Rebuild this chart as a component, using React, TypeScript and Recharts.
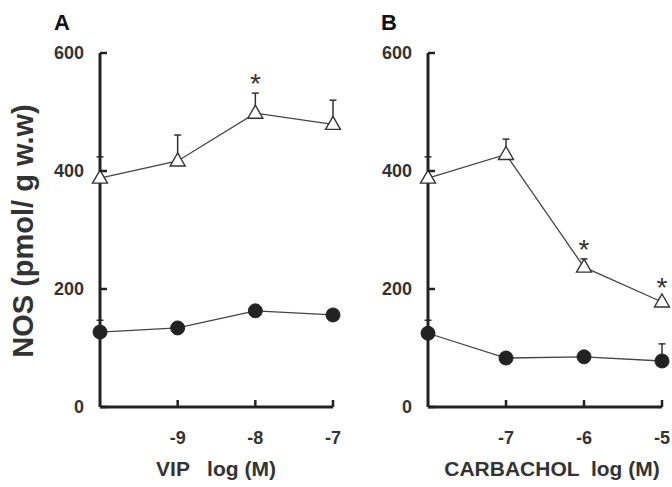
import React from "react";
import { LineChart, Line, XAxis, YAxis, ErrorBar } from "recharts";

// ---- data ----
const categoriesA = ["control", "-9", "-8", "-7"];
const vipTriangle = [388, 417, 498, 479];
const vipTriangleErr = [36, 44, 34, 41];
const vipCircle = [127, 134, 163, 156];
const vipCircleErr = [20, 5, 5, 5];
const vipStar = [null, null, 559, null];

const categoriesB = ["control", "-7", "-6", "-5"];
const carbTriangle = [388, 428, 237, 178];
const carbTriangleErr = [36, 26, 14, 5];
const carbCircle = [125, 83, 85, 78];
const carbCircleErr = [22, 5, 5, 29];
const carbStar = [null, null, 278, 213];

const yTicks = [0, 200, 400, 600];

const FONT = "'Liberation Sans', Arial, Helvetica, sans-serif";
const AXIS = "#222";
const LINE = "#444";
const TEXT = "#333";

function build(cats: string[], tri: number[], triErr: number[], circ: number[], circErr: number[], star: (number | null)[]) {
  return cats.map((c, i) => ({
    x: c,
    tri: tri[i],
    triErr: [0, triErr[i]],
    circ: circ[i],
    circErr: [0, circErr[i]],
    star: star[i],
  }));
}

const boldStyle = { fontWeight: 700 as const };

const XTick = (props: any) => {
  const { x, y, payload } = props;
  if (payload.value === "control") return <g />;
  return (
    <g>
      <line x1={x} y1={y} x2={x} y2={y - 7} stroke={AXIS} strokeWidth={2.5} />
      <text x={x} y={y + 37} textAnchor="middle" fontFamily={FONT} fontSize={18} fill={TEXT} style={boldStyle}>
        {payload.value}
      </text>
    </g>
  );
};

const YTick = (props: any) => {
  const { x, y, payload } = props;
  return (
    <g>
      <line x1={x} y1={y} x2={x + 7} y2={y} stroke={AXIS} strokeWidth={2.5} />
      <text x={x - 16} y={y} dy="0.36em" textAnchor="end" fontFamily={FONT} fontSize={18} fill={TEXT} style={boldStyle}>
        {payload.value}
      </text>
    </g>
  );
};

const Triangle = (props: any) => {
  const { cx, cy, index } = props;
  if (cx == null || cy == null) return <g key={"t" + index} />;
  const d = `M${cx},${cy - 8} L${cx + 7.5},${cy + 5} L${cx - 7.5},${cy + 5} Z`;
  return <path key={"t" + index} d={d} fill="#fff" stroke="#333" strokeWidth={1.4} />;
};

const Circle = (props: any) => {
  const { cx, cy, index } = props;
  if (cx == null || cy == null) return <g key={"c" + index} />;
  return <circle key={"c" + index} cx={cx} cy={cy} r={7} fill="#222" stroke="#222" />;
};

const Star = (props: any) => {
  const { cx, cy, index, value } = props;
  if (cx == null || cy == null || value == null) return <g key={"s" + index} />;
  return (
    <text key={"s" + index} x={cx} y={cy + 16} textAnchor="middle" fontFamily={FONT} fontSize={28} fill="#333">
      *
    </text>
  );
};

type PanelProps = {
  data: any[];
  left: number;
  width: number;
  margin: { top: number; right: number; bottom: number; left: number };
  xTitle: string;
  xTitleX: number;
  letter: string;
  letterX: number;
  yLabel?: string;
};

const Panel = ({ data, left, width, margin, xTitle, xTitleX, letter, letterX, yLabel }: PanelProps) => (
  <div style={{ position: "absolute", left, top: 0 }}>
    <LineChart width={width} height={487} data={data} margin={margin}>
      <XAxis
        dataKey="x"
        interval={0}
        axisLine={{ stroke: AXIS, strokeWidth: 3 }}
        tickLine={false}
        tickSize={0}
        tickMargin={0}
        height={30}
        tick={<XTick />}
        label={{
          content: () => (
            <text x={xTitleX} y={476} textAnchor="middle" fontFamily={FONT} fontSize={21} fill={TEXT} style={{ whiteSpace: "pre", fontWeight: 700 }}>
              {xTitle}
            </text>
          ),
        }}
      />
      <YAxis
        domain={[0, 600]}
        ticks={yTicks}
        width={60}
        axisLine={{ stroke: AXIS, strokeWidth: 3 }}
        tickLine={false}
        tickSize={0}
        tickMargin={0}
        tick={<YTick />}
        label={{
          content: () => (
            <g>
              <text x={letterX} y={30} fontFamily={FONT} fontSize={22} fill="#111" style={boldStyle}>
                {letter}
              </text>
              {yLabel ? (
                <text x={33} y={231} transform="rotate(-90 33 231)" textAnchor="middle" fontFamily={FONT} fontSize={29} fill={TEXT} style={boldStyle}>
                  {yLabel}
                </text>
              ) : null}
            </g>
          ),
        }}
      />
      <Line dataKey="circ" stroke={LINE} strokeWidth={1.3} dot={<Circle />} activeDot={false} isAnimationActive={false}>
        <ErrorBar dataKey="circErr" direction="y" width={3.5} stroke="#333" strokeWidth={1.5} />
      </Line>
      <Line dataKey="tri" stroke={LINE} strokeWidth={1.3} dot={<Triangle />} activeDot={false} isAnimationActive={false}>
        <ErrorBar dataKey="triErr" direction="y" width={3.5} stroke="#333" strokeWidth={1.5} />
      </Line>
      <Line dataKey="star" stroke="none" dot={<Star />} activeDot={false} isAnimationActive={false} connectNulls={false} />
    </LineChart>
  </div>
);

export default function App() {
  const dataA = build(categoriesA, vipTriangle, vipTriangleErr, vipCircle, vipCircleErr, vipStar);
  const dataB = build(categoriesB, carbTriangle, carbTriangleErr, carbCircle, carbCircleErr, carbStar);
  return (
    <div style={{ position: "absolute", left: 0, top: 0, width: 672, height: 487, background: "#fff", overflow: "hidden" }}>
      <Panel
        data={dataA}
        left={0}
        width={345}
        margin={{ top: 53, right: 12, bottom: 50, left: 40 }}
        xTitle={"VIP   log (M)"}
        xTitleX={216}
        letter="A"
        letterX={54}
        yLabel="NOS (pmol/ g w.w)"
      />
      <Panel
        data={dataB}
        left={336}
        width={336}
        margin={{ top: 53, right: 10, bottom: 50, left: 32 }}
        xTitle={"CARBACHOL  log (M)"}
        xTitleX={216}
        letter="B"
        letterX={45}
      />
    </div>
  );
}
